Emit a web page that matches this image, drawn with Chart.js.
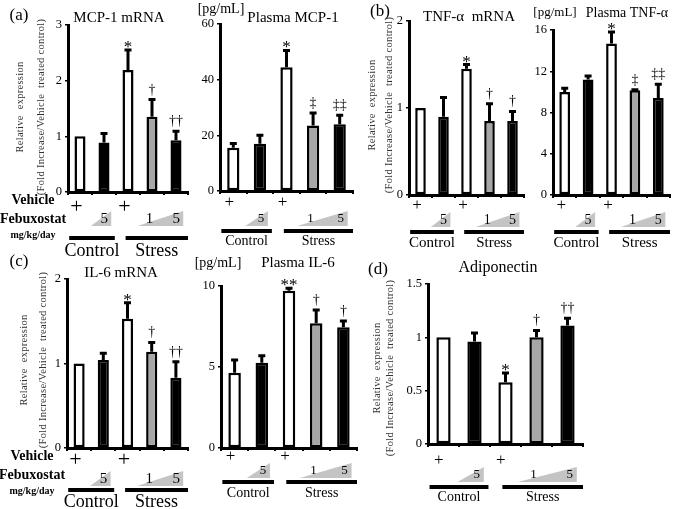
<!DOCTYPE html>
<html>
<head>
<meta charset="utf-8">
<script src="https://cdn.jsdelivr.net/npm/chart.js@4.4.1/dist/chart.umd.min.js"></script>
<style>
body { margin: 0; background: #fff; width: 675px; height: 509px; position: relative; overflow: hidden; }
canvas { position: absolute; }
</style>
</head>
<body>
<script>
// groups: control/stress x vehicle/febuxostat (mg/kg/day)
const groups = ['Control Vehicle', 'Control Febuxostat 5', 'Stress Vehicle', 'Stress Febuxostat 1', 'Stress Febuxostat 5'];

// (a) MCP-1
const mcpMrna = [1.0, 0.89, 2.19, 1.35, 0.93];
const mcpMrnaSd = [0, 0.16, 0.36, 0.31, 0.16];
const mcpMrnaMarks = ['', '', '*', '†', '††'];
const mcpPlasma = [15.5, 17, 44.5, 23.5, 24];
const mcpPlasmaSd = [1.6, 3, 6, 4.5, 3.2];
const mcpPlasmaMarks = ['', '', '*', '‡', '‡‡'];

// (b) TNF-a
const tnfMrna = [1.0, 0.9, 1.45, 0.85, 0.85];
const tnfMrnaSd = [0, 0.22, 0.05, 0.2, 0.11];
const tnfMrnaMarks = ['', '', '*', '†', '†'];
const tnfPlasma = [10.0, 11.2, 14.7, 10.15, 9.4];
const tnfPlasmaSd = [0.35, 0.35, 1.1, 0.06, 1.35];
const tnfPlasmaMarks = ['', '', '*', '‡', '‡‡'];

// (c) IL-6
const il6Mrna = [1.0, 1.04, 1.53, 1.14, 0.83];
const il6MrnaSd = [0, 0.08, 0.19, 0.11, 0.19];
const il6MrnaMarks = ['', '', '*', '†', '††'];
const il6Plasma = [4.65, 5.27, 9.7, 7.7, 7.45];
const il6PlasmaSd = [0.78, 0.43, 0.16, 0.82, 0.39];
const il6PlasmaMarks = ['', '', '**', '†', '†'];

// (d) adiponectin
const adipo = [1.0, 0.96, 0.58, 1.0, 1.11];
const adipoSd = [0, 0.08, 0.085, 0.065, 0.07];
const adipoMarks = ['', '', '*', '†', '††'];

const barFill = ['#ffffff', '#000000', '#ffffff', '#a6a6a6', '#000000'];
const SERIF = '"Liberation Serif", "Times New Roman", serif';
const yTitleLines = ['Relative  expression', '(Fold Increase/Vehicle  treated control)'];

// L/R/T/B = plot area on the page, sch = [plus, triangle, line, label] offsets below the axis
const panels = [
    { data: mcpMrna, sd: mcpMrnaSd, marks: mcpMrnaMarks, max: 3, step: 1,
      L: 68, R: 188, T: 25, B: 192, sch: [15, 34, 46, 59], fs: [22, 15, 18], side: true,
      yTitle: [20, 41, 107],
      texts: [['(a)', 19, 16, 17], ['MCP-1 mRNA', 119, 18, 15]] },
    { data: mcpPlasma, sd: mcpPlasmaSd, marks: mcpPlasmaMarks, max: 60, step: 20,
      L: 220, R: 353, T: 24, B: 191, sch: [12, 35, 40, 50], fs: [17, 13, 14],
      texts: [['[pg/mL]', 221, 9, 14], ['Plasma MCP-1', 293, 18, 15]] },
    { data: tnfMrna, sd: tnfMrnaSd, marks: tnfMrnaMarks, max: 2, step: 1,
      L: 409, R: 524, T: 21, B: 195, sch: [11, 32, 37, 48], fs: [17, 14, 15],
      yTitle: [372, 389, 105],
      texts: [['(b)', 380, 12, 17], ['TNF-α  mRNA', 469, 17, 15]] },
    { data: tnfPlasma, sd: tnfPlasmaSd, marks: tnfPlasmaMarks, max: 16, step: 4,
      L: 553, R: 670, T: 30, B: 195, sch: [11, 32, 37, 48], fs: [17, 14, 15],
      texts: [['[pg/mL]', 555, 13, 13], ['Plasma TNF-α', 627, 13, 14]] },
    { data: il6Mrna, sd: il6MrnaSd, marks: il6MrnaMarks, max: 2, step: 1,
      L: 67, R: 188, T: 279, B: 448, sch: [12, 38, 42, 54], fs: [22, 15, 18], side: true,
      yTitle: [24, 43, 360],
      texts: [['(c)', 19, 262, 17], ['IL-6 mRNA', 121, 273, 15]] },
    { data: il6Plasma, sd: il6PlasmaSd, marks: il6PlasmaMarks, max: 10, step: 5,
      L: 221, R: 357, T: 286, B: 448, sch: [9, 30, 34, 45], fs: [17, 13, 14],
      texts: [['[pg/mL]', 218, 263, 14], ['Plasma IL-6', 298, 263, 15]] },
    { data: adipo, sd: adipoSd, marks: adipoMarks, max: 1.5, step: 0.5,
      L: 428, R: 583, T: 284, B: 444, sch: [17, 38, 43, 53], fs: [17, 13, 14],
      yTitle: [377, 390, 368],
      texts: [['(d)', 378, 270, 17], ['Adiponectin', 498, 268, 16]] }
];

function decor(p, cx, cy) {
    return {
        id: 'decor',
        afterDatasetsDraw(chart) {
            const ctx = chart.ctx;
            const y = chart.scales.y;
            const meta = chart.getDatasetMeta(0);
            ctx.save();
            ctx.strokeStyle = '#000';
            ctx.fillStyle = '#000';
            ctx.lineWidth = 3;
            meta.data.forEach((bar, i) => {
                const yTop = y.getPixelForValue(p.data[i] + p.sd[i]);
                if (p.sd[i] > 0) {
                    ctx.beginPath();
                    ctx.moveTo(bar.x, bar.y);
                    ctx.lineTo(bar.x, yTop);
                    ctx.moveTo(bar.x - 3.5, yTop);
                    ctx.lineTo(bar.x + 3.5, yTop);
                    ctx.stroke();
                }
                const m = p.marks[i];
                if (m) {
                    ctx.textAlign = 'center';
                    ctx.textBaseline = 'alphabetic';
                    if (m[0] === '*') {
                        ctx.font = '17px ' + SERIF;
                        ctx.fillText(m, bar.x, yTop + 2);
                    } else {
                        ctx.font = '14px ' + SERIF;
                        ctx.fillText(m, bar.x, yTop - 6);
                    }
                }
            });
            ctx.restore();
        },
        afterDraw(chart) {
            const ctx = chart.ctx;
            const x = chart.scales.x;
            const base = chart.chartArea.bottom;
            const c = groups.map((g, i) => x.getPixelForValue(i));
            const s = c[1] - c[0];
            ctx.save();
            ctx.fillStyle = '#000';
            ctx.textAlign = 'center';
            ctx.textBaseline = 'middle';

            // vehicle "+"
            ctx.font = p.fs[0] + 'px ' + SERIF;
            [0, 2].forEach(i => ctx.fillText('+', c[i] - 0.15 * s, base + p.sch[0]));

            // febuxostat dose wedges
            const tb = base + p.sch[1];
            const th = 15;
            const r1 = c[1] + 0.3 * s;
            const r2 = c[4] + 0.3 * s;
            ctx.fillStyle = '#c4c4c4';
            ctx.beginPath();
            ctx.moveTo(c[1] - 0.55 * s, tb);
            ctx.lineTo(r1, tb);
            ctx.lineTo(r1, tb - th);
            ctx.closePath();
            ctx.moveTo(c[3] - 0.6 * s, tb);
            ctx.lineTo(r2, tb);
            ctx.lineTo(r2, tb - th);
            ctx.closePath();
            ctx.fill();
            ctx.fillStyle = '#000';
            ctx.font = p.fs[1] + 'px ' + SERIF;
            ctx.fillText('5', r1 - 7, tb - 7);
            ctx.fillText('1', c[3] - 0.1 * s, tb - 7);
            ctx.fillText('5', r2 - 7, tb - 7);

            // group bars
            const ly = base + p.sch[2];
            const cL = c[0] - 0.45 * s, cR = c[1] + 0.45 * s;
            const sL = c[2] - 0.1 * s, sR = c[4] + 0.5 * s;
            ctx.fillRect(cL, ly - 2, cR - cL, 4);
            ctx.fillRect(sL, ly - 2, sR - sL, 4);
            ctx.font = p.fs[2] + 'px ' + SERIF;
            ctx.fillText('Control', (cL + cR) / 2, base + p.sch[3]);
            ctx.fillText('Stress', (sL + sR) / 2, base + p.sch[3]);

            if (p.side) {
                const lx = chart.chartArea.left - 35;
                ctx.font = 'bold 14px ' + SERIF;
                ctx.fillText('Vehicle', lx, base + 8);
                ctx.fillText('Febuxostat', lx, base + 27);
                ctx.font = 'bold 10px ' + SERIF;
                ctx.fillText('mg/kg/day', lx, base + 43);
            }

            // titles
            p.texts.forEach(t => {
                ctx.font = t[3] + 'px ' + SERIF;
                ctx.fillText(t[0], t[1] - cx, t[2] - cy);
            });

            if (p.yTitle) {
                ctx.font = '10.5px ' + SERIF;
                ctx.letterSpacing = '0.3px';
                ctx.fillStyle = '#333';
                [0, 1].forEach(k => {
                    ctx.save();
                    ctx.translate(p.yTitle[k] - cx, p.yTitle[2] - cy);
                    ctx.rotate(-Math.PI / 2);
                    ctx.fillText(yTitleLines[k], 0, 0);
                    ctx.restore();
                });
            }
            ctx.restore();
        }
    };
}

panels.forEach(p => {
    const cx = p.L - 70;
    const cy = p.T - 30;
    const pb = p.sch[3] + 12;
    const canvas = document.createElement('canvas');
    canvas.width = p.R - p.L + 75;
    canvas.height = p.B - p.T + 30 + pb;
    canvas.style.left = cx + 'px';
    canvas.style.top = cy + 'px';
    document.body.appendChild(canvas);

    new Chart(canvas.getContext('2d'), {
        type: 'bar',
        data: {
            labels: groups,
            datasets: [{
                data: p.data,
                backgroundColor: barFill,
                borderColor: '#000',
                borderWidth: 2.5,
                borderSkipped: false,
                barPercentage: 0.46,
                categoryPercentage: 1
            }]
        },
        options: {
            responsive: false,
            animation: false,
            events: [],
            layout: { padding: { left: 0, top: 30, right: 5, bottom: pb } },
            plugins: { legend: { display: false }, tooltip: { enabled: false } },
            scales: {
                x: {
                    offset: true,
                    ticks: { display: false },
                    grid: { offset: true, drawOnChartArea: false, tickLength: 3, color: '#000', lineWidth: 2 },
                    border: { color: '#000', width: 3 },
                    afterFit: (s) => { s.height = 0; }
                },
                y: {
                    min: 0,
                    max: p.max,
                    ticks: {
                        stepSize: p.step, color: '#000', padding: 3,
                        font: { family: SERIF, size: 12.5 },
                        callback: (v) => String(v)
                    },
                    grid: { drawOnChartArea: false, tickLength: 3, color: '#000', lineWidth: 1.5 },
                    border: { color: '#000', width: 3 },
                    afterFit: (s) => { s.width = 70; }
                }
            }
        },
        plugins: [decor(p, cx, cy)]
    });
});
</script>
</body>
</html>
